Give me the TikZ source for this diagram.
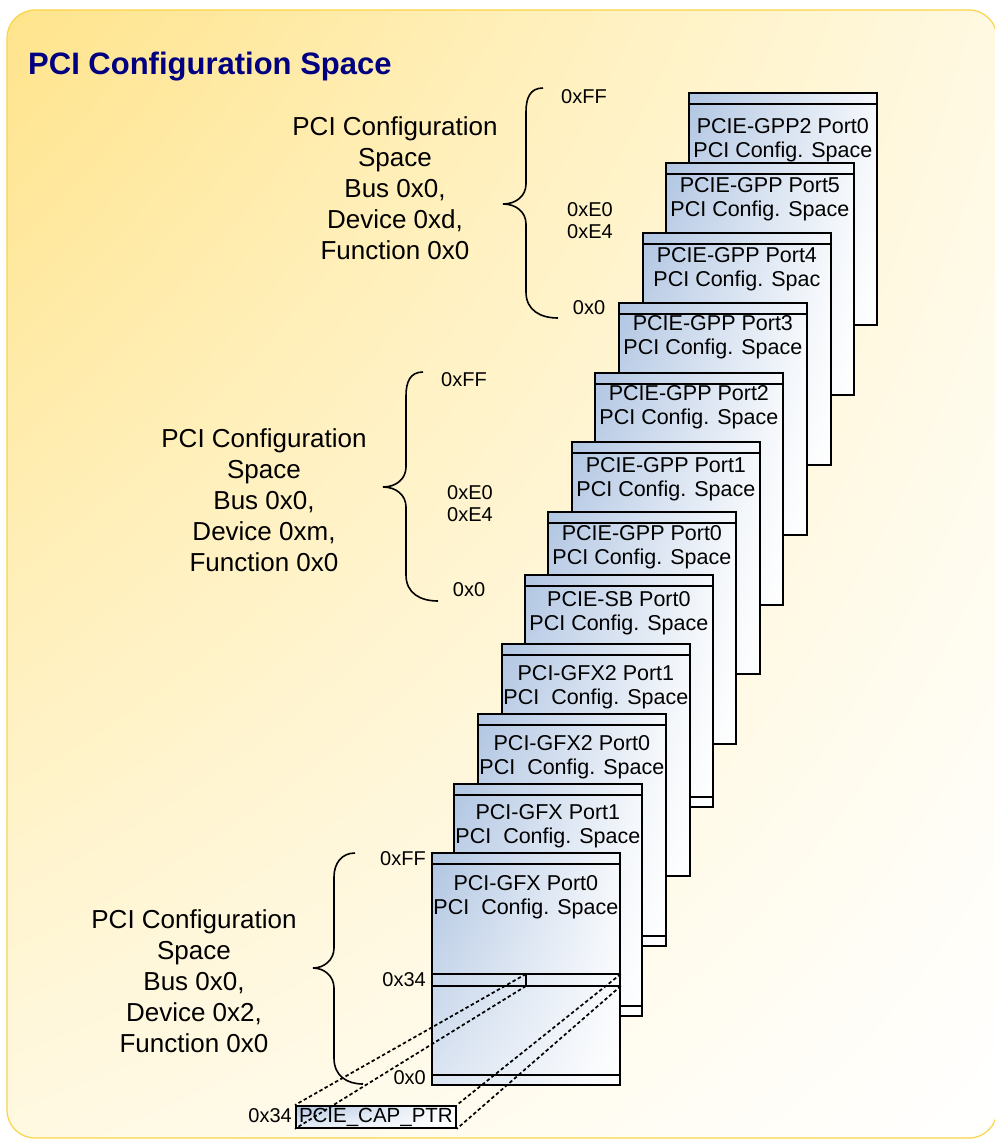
\documentclass[tikz,border=0pt]{standalone}
\usepackage{fontspec}
\setmainfont{Liberation Sans}
\usetikzlibrary{positioning,shadings}
\definecolor{bgyellow}{RGB}{255,228,140}
\definecolor{bgpale}{RGB}{255,249,226}
\definecolor{bordergold}{RGB}{250,212,70}
\definecolor{titleblue}{RGB}{0,0,128}
\definecolor{boxblue}{RGB}{176,197,226}
\tikzset{
  cfgbox/.style={draw, line width=1.8pt, anchor=north west, inner sep=0pt,
    minimum width=188pt, minimum height=232pt,
    upper left=boxblue, upper right=boxblue!12, lower left=boxblue!45, lower right=white,
    path picture={\draw[line width=1.8pt]
      ([yshift=-11pt]path picture bounding box.north west) --
      ([yshift=-11pt]path picture bounding box.north east);}},
  boxtext/.style={inner sep=0pt, align=center, font=\fontsize{21.5}{24}\selectfont},
  hexlabel/.style={inner sep=0pt, align=center, font=\fontsize{20}{22}\selectfont},
  sidetext/.style={inner sep=0pt, align=center, font=\fontsize{26}{31}\selectfont},
  bracepath/.style={line width=1.6pt},
  rowline/.style={line width=1.8pt},
  capline/.style={line width=1.7pt, dash pattern=on 3.5pt off 2.5pt},
  ptrbox/.style={draw, line width=1.8pt, anchor=north west, inner sep=0pt,
    minimum width=160pt, minimum height=22pt, font=\fontsize{20.5}{22}\selectfont,
    upper left=boxblue, upper right=white, lower left=boxblue!30, lower right=white},
}
\begin{document}
\begin{tikzpicture}[x=1pt, y=-1pt]
  \useasboundingbox (0,0) rectangle (995,1141);
  % background panel
  \shadedraw[draw=bordergold, line width=1.2pt, rounded corners=28pt,
    upper left=bgyellow, upper right=bgpale, lower left=bgpale, lower right=white]
    (7,10) rectangle (997,1138);
  \node[anchor=west, inner sep=0pt, text=titleblue,
    font=\fontsize{31}{36}\selectfont\bfseries] (title) at (28,67) {PCI Configuration Space};

  % device descriptions
  \node[sidetext] (dev_d) at (395,188) {PCI Configuration\\Space\\Bus 0x0,\\Device 0xd,\\Function 0x0};
  \node[sidetext] (dev_m) at (264,500) {PCI Configuration\\Space\\Bus 0x0,\\Device 0xm,\\Function 0x0};
  \node[sidetext] (dev_2) at (194,981) {PCI Configuration\\Space\\Bus 0x0,\\Device 0x2,\\Function 0x0};

  % braces
  \draw[bracepath] (543,88) .. controls (530,88) and (526,98) .. (526,112) -- (526,184)
    .. controls (526,196) and (516,204) .. (503,204) .. controls (516,204) and (526,212) .. (526,224)
    -- (526,292) .. controls (526,310) and (540,318) .. (558,318);
  \draw[bracepath] (423,372) .. controls (410,372) and (406,382) .. (406,396) -- (406,467)
    .. controls (406,479) and (396,487) .. (383,487) .. controls (396,487) and (406,495) .. (406,507)
    -- (406,575) .. controls (406,593) and (420,601) .. (438,601);
  \draw[bracepath] (355,853) .. controls (342,853) and (334,863) .. (334,877) -- (334,948)
    .. controls (334,960) and (324,968) .. (313,968) .. controls (324,968) and (334,976) .. (334,988)
    -- (334,1058) .. controls (334,1076) and (347,1084) .. (363,1084);

  % offsets
  \node[hexlabel] (ff_d) at (584,97) {0xFF};
  \node[hexlabel] (e0_d) at (590,221) {0xE0\\0xE4};
  \node[hexlabel] (z_d) at (589,308) {0x0};
  \node[hexlabel] (ff_m) at (464,380) {0xFF};
  \node[hexlabel] (e0_m) at (470,504) {0xE0\\0xE4};
  \node[hexlabel] (z_m) at (469,590) {0x0};
  \node[hexlabel, anchor=east] (ff_2) at (426,859) {0xFF};
  \node[hexlabel, anchor=east] (cap_2) at (426,980) {0x34};
  \node[hexlabel, anchor=east] (z_2) at (426,1078) {0x0};

  % stacked config spaces, back to front
  \node[cfgbox] (gpp2p0) at (688,92) {};
  \node[boxtext, below=26pt of gpp2p0.north] (t_gpp2p0) {PCIE-GPP2 Port0\\PCI Config. Space};
  \node[cfgbox] (gppp5) at (665,162) {};
  \node[boxtext, below=15pt of gppp5.north] (t_gppp5) {PCIE-GPP Port5\\PCI Config. Space};
  \node[cfgbox] (gppp4) at (642,232) {};
  \node[boxtext, below=15pt of gppp4.north] (t_gppp4) {PCIE-GPP Port4\\PCI Config. Spac};
  \node[cfgbox] (gppp3) at (618,302) {};
  \node[boxtext, below=13pt of gppp3.north] (t_gppp3) {PCIE-GPP Port3\\PCI Config. Space};
  \node[cfgbox] (gppp2) at (594,372) {};
  \node[boxtext, below=13pt of gppp2.north] (t_gppp2) {PCIE-GPP Port2\\PCI Config. Space};
  \node[cfgbox] (gppp1) at (571,441) {};
  \node[boxtext, below=16pt of gppp1.north] (t_gppp1) {PCIE-GPP Port1\\PCI Config. Space};
  \node[cfgbox] (gppp0) at (547,511) {};
  \node[boxtext, below=14pt of gppp0.north] (t_gppp0) {PCIE-GPP Port0\\PCI Config. Space};
  \node[cfgbox] (sbp0) at (524,574) {};
  \node[boxtext, below=17pt of sbp0.north] (t_sbp0) {PCIE-SB Port0\\PCI Config. Space};
  \draw[rowline] ([yshift=11pt]sbp0.south west) -- ([yshift=11pt]sbp0.south east);
  \node[cfgbox] (gfx2p1) at (501,643) {};
  \node[boxtext, below=22pt of gfx2p1.north] (t_gfx2p1) {PCI-GFX2 Port1\\PCI~~Config. Space};
  \node[cfgbox] (gfx2p0) at (477,713) {};
  \node[boxtext, below=22pt of gfx2p0.north] (t_gfx2p0) {PCI-GFX2 Port0\\PCI~~Config. Space};
  \draw[rowline] ([yshift=11pt]gfx2p0.south west) -- ([yshift=11pt]gfx2p0.south east);
  \node[cfgbox] (gfxp1) at (453,783) {};
  \node[boxtext, below=21pt of gfxp1.north] (t_gfxp1) {PCI-GFX Port1\\PCI~~Config. Space};
  \draw[rowline] ([yshift=11pt]gfxp1.south west) -- ([yshift=11pt]gfxp1.south east);
  \node[cfgbox] (gfxp0) at (431,852) {};
  \node[boxtext, below=23pt of gfxp0.north] (t_gfxp0) {PCI-GFX Port0\\PCI~~Config. Space};
  \draw[rowline] ([yshift=11pt]gfxp0.south west) -- ([yshift=11pt]gfxp0.south east);

  % 0x34 row of the front space
  \coordinate (cap_a) at ([xshift=95pt, yshift=-122pt]gfxp0.north west);
  \coordinate (cap_b) at ([xshift=95pt, yshift=-134pt]gfxp0.north west);
  \coordinate (cap_c) at ([yshift=-122pt]gfxp0.north east);
  \coordinate (cap_d) at ([yshift=-134pt]gfxp0.north east);
  \draw[rowline] (cap_a -| gfxp0.west) -- (cap_c);
  \draw[rowline] (cap_b -| gfxp0.west) -- (cap_d);
  \draw[rowline] (cap_a) -- (cap_b);

  % expanded register
  \node[ptrbox] (capptr) at (295,1105) {PCIE\_CAP\_PTR};
  \node[hexlabel, anchor=east] (cap_ptr) at (292,1116) {0x34};
  \draw[capline] (cap_a) -- (capptr.north west);
  \draw[capline] (cap_b) -- (capptr.south west);
  \draw[capline] (cap_c) -- (capptr.north east);
  \draw[capline] (cap_d) -- (capptr.south east);
\end{tikzpicture}
\end{document}
